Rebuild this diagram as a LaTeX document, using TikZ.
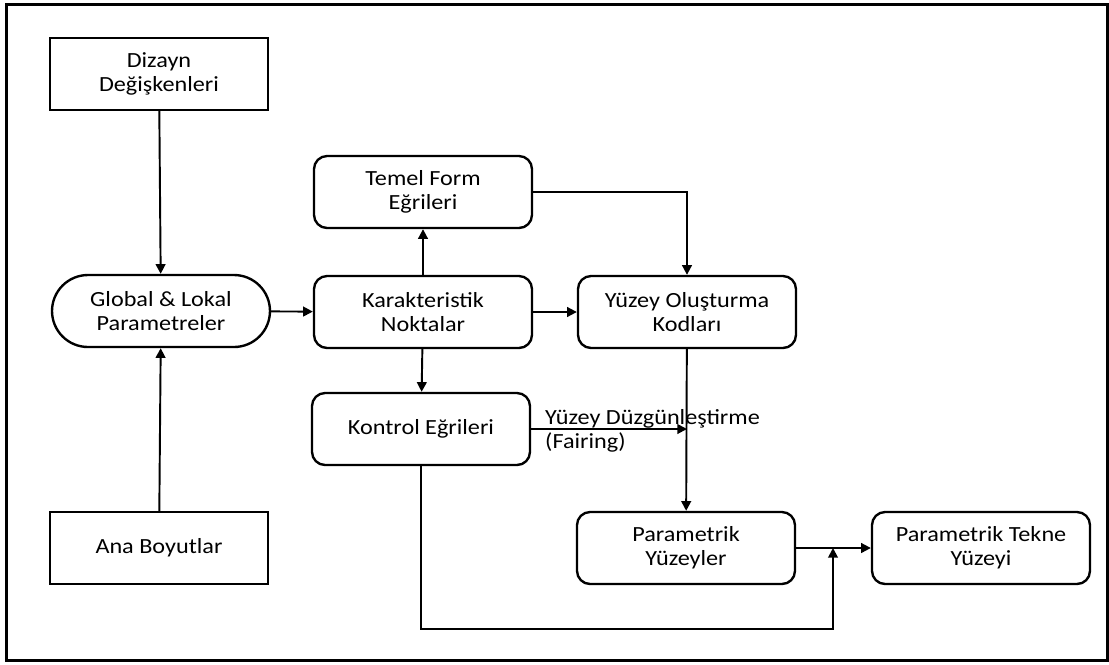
\documentclass[tikz,border=0pt]{standalone}
\usepackage{fontspec}
\setmainfont{Carlito}[FakeStretch=1.12]
\usetikzlibrary{arrows.meta,shapes.misc}
\begin{document}
\begin{tikzpicture}[x=0.02cm,y=-0.02cm,
  every node/.style={font=\fontsize{12.3}{13.6}\selectfont, align=center},
  block/.style={draw, line width=1.35pt, minimum width=4.36cm, minimum height=1.44cm, inner sep=0pt},
  rblock/.style={block, rounded corners=0.26cm},
  pill/.style={draw, line width=1.35pt, rounded rectangle, minimum width=4.36cm, minimum height=1.44cm, inner sep=0pt},
  arr/.style={line width=1.1pt, -{Triangle[length=5.5pt,width=5.5pt]}}]
  \useasboundingbox (0,0) rectangle (1109,664);
  % outer frame
  \draw[line width=1.7pt] (6.5,4.3) rectangle (1107.5,660.5);

  % blocks
  \node[block]  (diz)   at (159,74)  {Dizayn\\Değişkenleri};
  \node[pill]   (glob)  at (161,311) {Global \& Lokal\\Parametreler};
  \node[block]  (ana)   at (159,548) {Ana Boyutlar};
  \node[rblock] (temel) at (423,192) {Temel Form\\Eğrileri};
  \node[rblock] (kar)   at (423,312) {Karakteristik\\Noktalar};
  \node[rblock] (yuz)   at (687,312) {Yüzey Oluşturma\\Kodları};
  \node[rblock] (kon)   at (421,429) {Kontrol Eğrileri};
  \node[rblock] (psur)  at (686,548) {Parametrik\\Yüzeyler};
  \node[rblock] (tek)   at (981,548) {Parametrik Tekne\\Yüzeyi};

  % connectors
  \draw[arr] (diz) -- (glob);
  \draw[arr] (ana) -- (glob);
  \draw[arr] (glob) -- (kar);
  \draw[arr] (kar) -- (temel);
  \draw[arr] (temel.east) -| (yuz.north);
  \draw[arr] (kar) -- (yuz);
  \draw[arr] (kar) -- (kon);
  \draw[arr] (yuz) -- (psur);
  \coordinate (fair) at (yuz.south |- kon.east);
  \draw[arr] (kon.east) -- (fair);
  \node[anchor=west, align=left] (fairlbl) at (539,431)
    {Yüzey Düzgünleştirme\\(Fairing)};
  \draw[arr] (psur) -- (tek);
  \coordinate (low) at (kon.south |- 0,629);
  \coordinate (merge) at (833,548);
  \draw[arr] (kon.south) -- (low) -| (merge);
\end{tikzpicture}
\end{document}
